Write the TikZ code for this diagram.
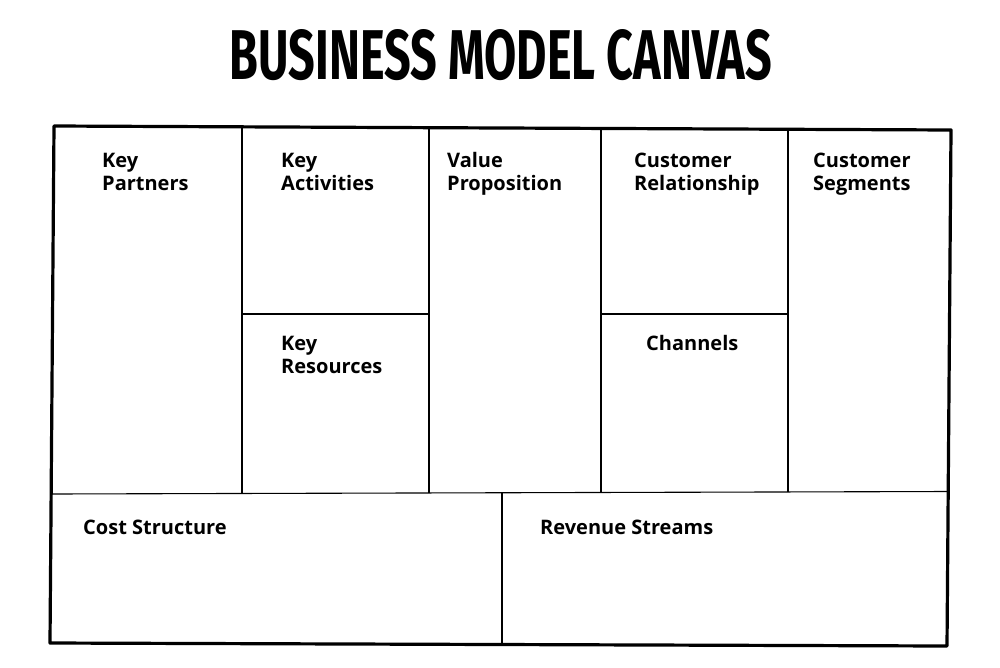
\documentclass[tikz,border=0pt]{standalone}
\usepackage{fontspec}
\usepackage{graphicx}
\setmainfont{Open Sans}
\newfontfamily\titlefont{Fira Sans}
\usetikzlibrary{positioning,calc}

\begin{document}
\begin{tikzpicture}[x=1pt,y=-1pt,
  frame/.style={line width=3.2pt, line join=round},
  divider/.style={line width=1.1pt},
  blocklabel/.style={anchor=base west, inner sep=0pt, align=left,
    font=\fontsize{20}{23}\selectfont\bfseries}]
\useasboundingbox (0,0) rectangle (1000,667);

\node[inner sep=0pt, anchor=north] (title) at (501,29)
  {\resizebox{542pt}{50pt}{\titlefont\bfseries BUSINESS MODEL CANVAS}};

% canvas corners
\coordinate (tl) at (54,126);
\coordinate (tr) at (951,130);
\coordinate (br) at (947,646);
\coordinate (bl) at (50,643);
\coordinate (midl) at (51,494);
\coordinate (midr) at (948,491.5);

% dividers
\draw[divider] (midl) -- (midr);
\draw[divider] (242,127) -- (242,493.5)
               (429,127.5) -- (429,493)
               (601,128.5) -- (601,492.5)
               (788,129) -- (788,492);
\draw[divider] (242,314) -- (429,314)
               (601,314) -- (788,314);
\draw[divider] (502,493) -- (502,644);
\draw[frame] (tl) -- (tr) -- (br) -- (bl) -- cycle;

% block labels (base = last line)
\node[blocklabel] (partners) at (102,190) {Key\\Partners};
\node[blocklabel] (activities) at (281,190) {Key\\Activities};
\node[blocklabel] (value) at (447,190) {Value\\Proposition};
\node[blocklabel] (relationship) at (634,190) {Customer\\Relationship};
\node[blocklabel] (segments) at (813,190) {Customer\\Segments};
\node[blocklabel] (resources) at (281,373) {Key\\Resources};
\node[blocklabel] (channels) at (646,350) {Channels};
\node[blocklabel] (cost) at (83,534) {Cost Structure};
\node[blocklabel] (revenue) at (540,534) {Revenue Streams};

\end{tikzpicture}
\end{document}
